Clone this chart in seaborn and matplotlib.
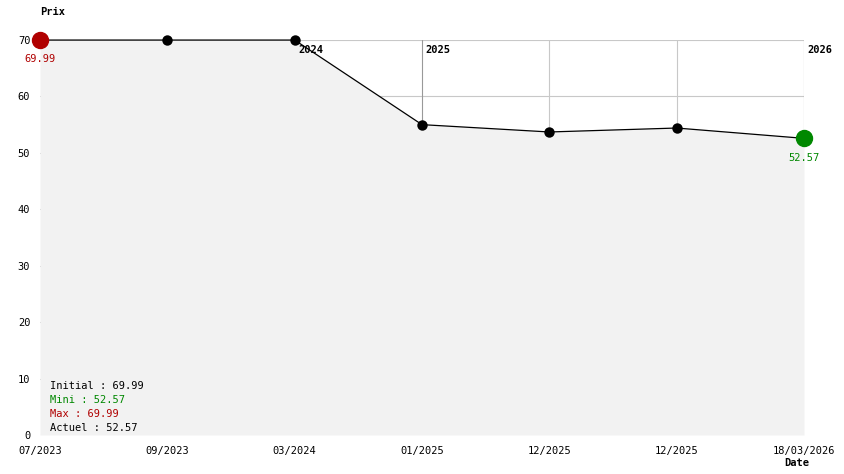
import numpy as np
import pandas as pd
import seaborn as sns
import matplotlib.pyplot as plt

# price history
dates = ["07/2023", "09/2023", "03/2024", "01/2025", "12/2025", "12/2025", "18/03/2026"]
prices = [69.99, 69.99, 69.99, 55.0, 53.7, 54.4, 52.57]
years = ["2024", "2025", "2026"]
year_pos = [2, 3, 6]
yticks = [0, 10, 20, 30, 40, 50, 60, 70]

df = pd.DataFrame({"pos": range(len(dates)), "prix": prices})

sns.set_style("white")
plt.rcParams["font.family"] = ["DejaVu Sans Mono"]
plt.rcParams["text.color"] = "black"
plt.rcParams["xtick.color"] = "black"
plt.rcParams["ytick.color"] = "black"

fig = plt.figure(figsize=(8.44, 4.74), dpi=100)
ax = fig.add_axes([40 / 844, 39 / 474, 764 / 844, 395 / 474])

# grid behind the fill
for y in yticks:
    ax.axhline(y, color="#c8c8c8", lw=0.8, zorder=0)
for i in df["pos"][1:]:
    col = "#999999" if i in year_pos else "#c8c8c8"
    ax.axvline(i, color=col, lw=0.8, zorder=0)

ax.fill_between(df["pos"], df["prix"], 0, color="#f2f2f2", zorder=1, lw=0)
sns.lineplot(data=df, x="pos", y="prix", ax=ax, color="black", lw=0.9,
             marker="o", markersize=7.5, markeredgewidth=0, zorder=3, clip_on=False)

# min / max markers
imax = int(np.argmax(prices))
imin = int(np.argmin(prices))
ax.plot(imax, prices[imax], "o", color="#b00000", ms=11.5, zorder=4, clip_on=False)
ax.plot(imin, prices[imin], "o", color="#008800", ms=11.5, zorder=4, clip_on=False)
ax.text(imax, prices[imax] - 3.3, f"{prices[imax]:.2f}", color="#b00000",
        ha="center", va="center", fontsize=7.5, zorder=5)
ax.text(imin, prices[imin] - 3.4, f"{prices[imin]:.2f}", color="#008800",
        ha="center", va="center", fontsize=7.5, zorder=5)

# year labels
for yr, p in zip(years, year_pos):
    ax.text(p + 0.03, 68.2, yr, fontsize=7.5, fontweight="bold",
            ha="left", va="center", zorder=2)

ax.set_xlim(0, len(dates) - 1)
ax.set_ylim(0, 70)
ax.set_xticks(df["pos"])
ax.set_xticklabels(dates)
ax.set_yticks(yticks)
ax.tick_params(labelsize=7.5, length=0, pad=8)
ax.tick_params(axis="y", pad=7)
for s in ax.spines.values():
    s.set_visible(False)
ax.set_xlabel("")
ax.set_ylabel("")

fig.text(40 / 844, 1 - 12 / 474, "Prix", fontsize=7.5, fontweight="bold", va="center")
fig.text(784 / 844, 1 - 463 / 474, "Date", fontsize=7.5, fontweight="bold", va="center")

stats = [("Initial : 69.99", "black"), ("Mini : 52.57", "#008800"),
         ("Max : 69.99", "#b00000"), ("Actuel : 52.57", "black")]
for k, (t, c) in enumerate(stats):
    fig.text(50 / 844, 1 - (386 + 14 * k) / 474, t, color=c, fontsize=7.5, va="center")

fig.savefig("out.png", dpi=100)
